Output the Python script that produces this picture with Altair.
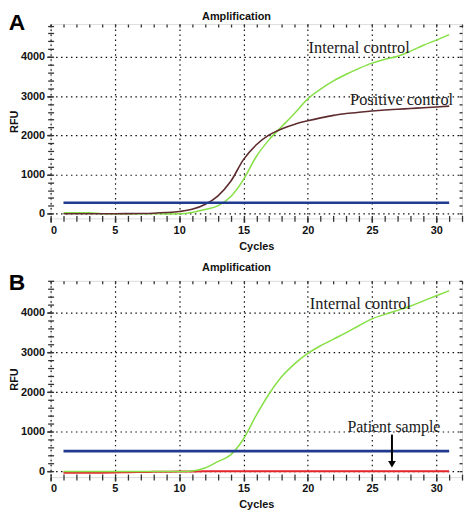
import altair as alt
import pandas as pd

# ---------------- data ----------------
cycles = list(range(1, 32))

a_internal = [25, 25, 24, 0, 0, 0, 0, -3, -8, -5, 30, 105, 200, 430, 870, 1460,
              1890, 2230, 2570, 2930, 3180, 3390, 3560, 3710, 3843, 3940, 4020,
              4150, 4300, 4430, 4570]
a_positive = [0, 0, 0, 0, 0, 2, 5, 12, 28, 55, 110, 235, 450, 820, 1380, 1760,
              2010, 2170, 2285, 2370, 2445, 2510, 2555, 2590, 2620, 2645, 2665,
              2685, 2705, 2725, 2745]
a_threshold = 280

b_internal = [0, 0, 0, 0, 0, 0, 0, 0, 0, 0, 15, 90, 250, 420, 820, 1420, 1960,
              2400, 2720, 2975, 3170, 3335, 3500, 3680, 3848, 3960, 4060, 4170,
              4300, 4430, 4555]
b_patient = [-30, -32, -32, -30, -25, -18, -12, -8, -4, 0, 3, 5, 5, 6, 6, 6, 6,
             7, 7, 7, 7, 8, 8, 8, 8, 9, 9, 9, 10, 10, 10]
b_threshold = 515

threshold_start = 1
threshold_end = 31

panel_title = "Amplification"

a_labels = ["Internal control", "Positive control"]
a_label_x = [24.0, 27.3]
a_label_y = [4095, 2785]

b_labels = ["Internal control", "Patient sample"]
b_label_x = [24.1, 26.7]
b_label_y = [4097, 990]

arrow_x = [26.55]
arrow_top = [930]
arrow_bottom = [250]
arrow_head = [185]

x_major = [0, 5, 10, 15, 20, 25, 30]
x_minor = list(range(0, 33))
y_major = [0, 1000, 2000, 3000, 4000]
y_minor = list(range(0, 4801, 200))

x_domain = [0, 32.0]
a_y_domain = [-120, 4840]
b_y_domain = [-140, 4805]

# ---------------- style ----------------
SANS = "Liberation Sans"
SERIF = "Liberation Serif"
GREEN = "#86E045"
BROWN = "#5E2C2E"
BLUE = "#1F3A8F"
RED = "#E3262B"
TICK = "#333333"
W = 415


def main_x():
    return alt.Axis(values=x_major, title="Cycles", grid=True, gridDash=[1.5, 3.5],
                    gridColor="#111111", gridWidth=1.2, domain=False, tickSize=4,
                    tickColor=TICK, tickWidth=1.5, labelPadding=2, labelFont=SANS,
                    labelFontSize=11, labelFontWeight="bold", labelColor="#111111",
                    titleFont=SANS, titleFontSize=11, titleFontWeight="bold",
                    titleColor="#111111", titlePadding=5, orient="bottom", format="d",
                    minExtent=0)


def main_y():
    return alt.Axis(values=y_major, title="RFU", grid=True, gridDash=[1.5, 3.5],
                    gridColor="#111111", gridWidth=1.2, domain=False, tickSize=4,
                    tickColor=TICK, tickWidth=1.5, labelPadding=2, labelFont=SANS,
                    labelFontSize=11, labelFontWeight="bold", labelColor="#111111",
                    titleFont=SANS, titleFontSize=11, titleFontWeight="bold",
                    titleColor="#111111", titlePadding=1, orient="left", format="d",
                    minExtent=0)


def minor(values, orient, size):
    return alt.Axis(values=values, orient=orient, offset=-3, tickSize=size,
                    tickColor=TICK, tickWidth=1.3, labels=False, domain=False,
                    grid=False, title=None, minExtent=0, labelPadding=0)


def panel(letter, series, threshold, labels, lx, ly, y_domain, height, title_y,
          letter_y, arrow=False):
    xs = alt.Scale(domain=x_domain, nice=False, zero=False)
    ys = alt.Scale(domain=y_domain, nice=False, zero=False)
    layers = []
    first = True
    for values, color, width in series:
        df = pd.DataFrame({"cycle": cycles, "rfu": values})
        if first:
            xe = alt.X("cycle:Q", scale=xs, axis=main_x())
            ye = alt.Y("rfu:Q", scale=ys, axis=main_y())
            first = False
        else:
            xe = alt.X("cycle:Q", scale=xs, axis=None)
            ye = alt.Y("rfu:Q", scale=ys, axis=None)
        layers.append(alt.Chart(df).mark_line(color=color, strokeWidth=width,
                                              interpolate="monotone").encode(x=xe, y=ye))
    thr = pd.DataFrame({"x1": [threshold_start], "x2": [threshold_end], "t": [threshold]})
    layers.append(alt.Chart(thr).mark_rule(color=BLUE, strokeWidth=2.6).encode(
        x=alt.X("x1:Q", scale=xs, axis=minor(x_minor, "bottom", 6)),
        x2="x2:Q",
        y=alt.Y("t:Q", scale=ys, axis=minor(y_minor, "left", 6))))
    txt = pd.DataFrame({"label": labels, "x": lx, "y": ly,
                        "size": [16.5 if l != "Patient sample" else 16 for l in labels]})
    layers.append(alt.Chart(txt).mark_text(font=SERIF, color="#1a1a1a", align="center",
                                           baseline="alphabetic").encode(
        x=alt.X("x:Q", scale=xs, axis=minor(x_minor, "top", 3)),
        y=alt.Y("y:Q", scale=ys, axis=minor(y_minor, "right", 3)),
        text="label:N",
        size=alt.Size("size:Q", scale=None, legend=None)))
    if arrow:
        arr = pd.DataFrame({"x": arrow_x, "top": arrow_top, "bottom": arrow_bottom,
                            "head": arrow_head})
        layers.append(alt.Chart(arr).mark_rule(color="#000000", strokeWidth=2).encode(
            x=alt.X("x:Q", scale=xs, axis=None),
            y=alt.Y("top:Q", scale=ys, axis=None), y2="bottom:Q"))
        layers.append(alt.Chart(arr).mark_point(shape="triangle-down", filled=True,
                                                size=60, color="#000000", opacity=1).encode(
            x=alt.X("x:Q", scale=xs, axis=None),
            y=alt.Y("head:Q", scale=ys, axis=None)))
    lt = pd.DataFrame({"label": [letter]})
    layers.append(alt.Chart(lt).mark_text(font=SANS, fontWeight="bold", fontSize=23,
                                          color="#000000", align="center",
                                          baseline="middle").encode(
        x=alt.value(-34), y=alt.value(letter_y), text="label:N"))
    tt = pd.DataFrame({"label": [panel_title]})
    layers.append(alt.Chart(tt).mark_text(font=SANS, fontWeight="bold", fontSize=11,
                                          color="#111111", align="center",
                                          baseline="middle").encode(
        x=alt.value(W / 2 - 20), y=alt.value(title_y), text="label:N"))
    return alt.layer(*layers).resolve_axis(x="independent", y="independent").properties(
        width=W, height=height)


chart_a = panel("A", [(a_internal, GREEN, 1.5), (a_positive, BROWN, 1.6)], a_threshold,
                a_labels, a_label_x, a_label_y, a_y_domain, 196, -7, -1)
chart_b = panel("B", [(b_patient, RED, 2), (b_internal, GREEN, 1.5)], b_threshold,
                b_labels, b_label_x, b_label_y, b_y_domain, 198, -12.5, 2, arrow=True)

chart = alt.vconcat(chart_a, chart_b, spacing=10).properties(padding=0).configure_view(
    stroke="#444444", strokeWidth=2).configure(background="white")

chart.save("out.html", embed_options={"renderer": "svg", "actions": False})
